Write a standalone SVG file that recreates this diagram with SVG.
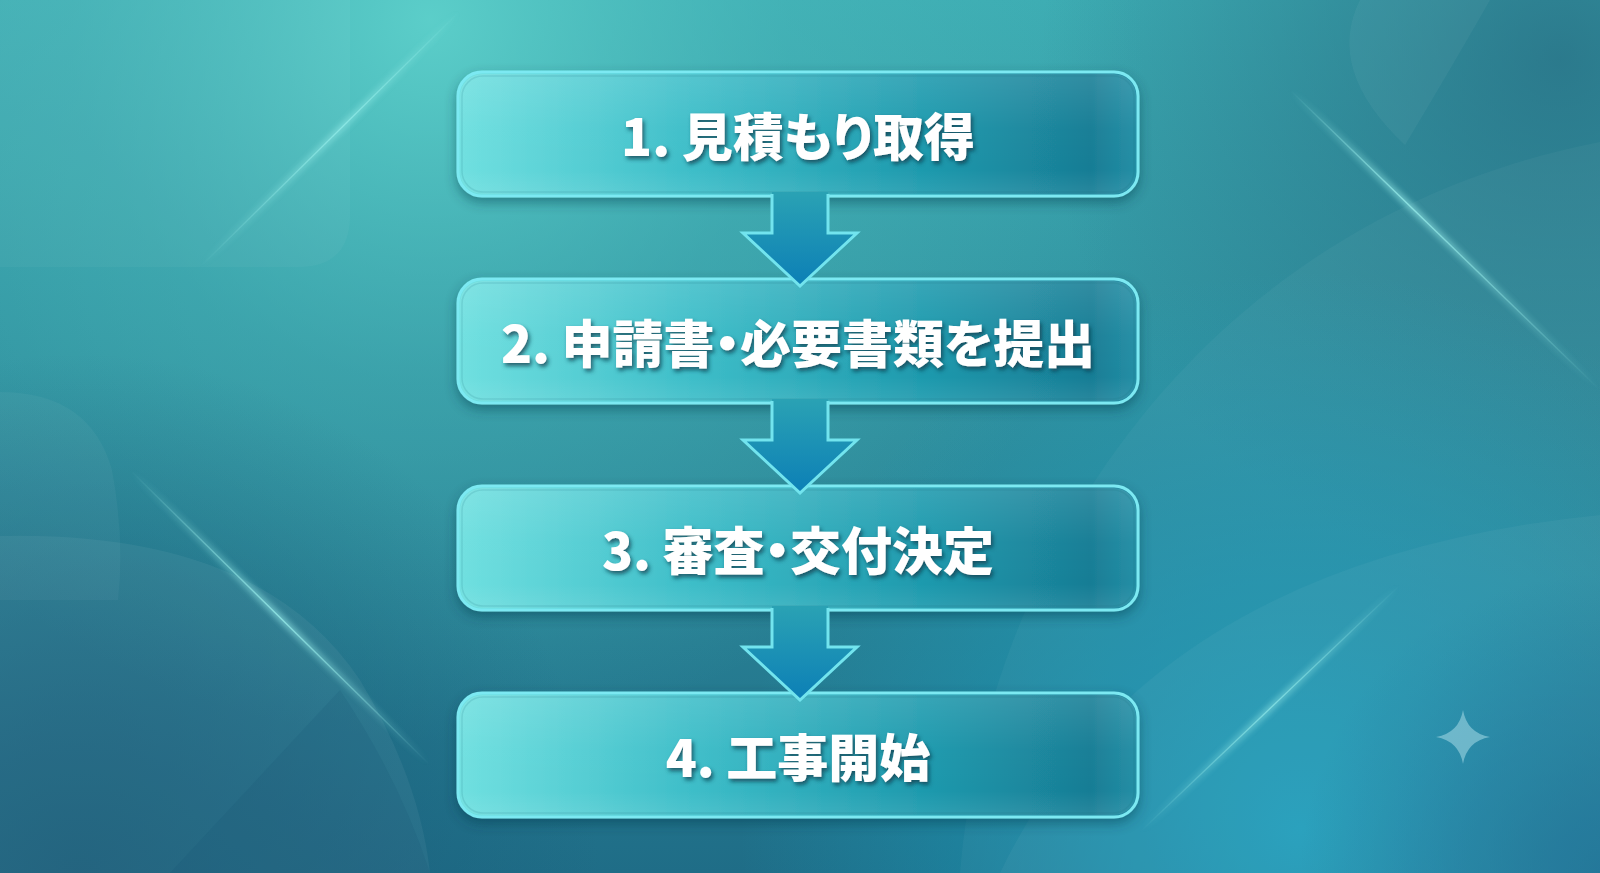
<svg xmlns="http://www.w3.org/2000/svg" width="1600" height="873" viewBox="0 0 1600 873">
<defs>
<linearGradient id="bgBase" x1="0" y1="0" x2="0" y2="1">
<stop offset="0" stop-color="#3cabb2"/>
<stop offset="0.5" stop-color="#2e8c9c"/>
<stop offset="1" stop-color="#1f6d87"/>
</linearGradient>
<radialGradient id="bgTL" cx="430" cy="20" r="720" gradientUnits="userSpaceOnUse">
<stop offset="0" stop-color="#5fd2cc" stop-opacity="0.9"/>
<stop offset="0.5" stop-color="#4cbcbc" stop-opacity="0.4"/>
<stop offset="1" stop-color="#4cbcbc" stop-opacity="0"/>
</radialGradient>
<radialGradient id="bgBR" cx="1300" cy="830" r="560" gradientUnits="userSpaceOnUse">
<stop offset="0" stop-color="#1aa3c2" stop-opacity="0.85"/>
<stop offset="1" stop-color="#1aa3c2" stop-opacity="0"/>
</radialGradient>
<radialGradient id="bgTR" cx="1560" cy="60" r="520" gradientUnits="userSpaceOnUse">
<stop offset="0" stop-color="#25677e" stop-opacity="0.7"/>
<stop offset="1" stop-color="#25677e" stop-opacity="0"/>
</radialGradient>
<radialGradient id="bgBRC" cx="1600" cy="873" r="300" gradientUnits="userSpaceOnUse">
<stop offset="0" stop-color="#126990" stop-opacity="0.8"/>
<stop offset="1" stop-color="#126990" stop-opacity="0"/>
</radialGradient>
<radialGradient id="bgBL" cx="80" cy="873" r="520" gradientUnits="userSpaceOnUse">
<stop offset="0" stop-color="#175876" stop-opacity="0.8"/>
<stop offset="1" stop-color="#175876" stop-opacity="0"/>
</radialGradient>
<linearGradient id="boxFill" x1="0" y1="0" x2="1" y2="0">
<stop offset="0" stop-color="#70e0e0"/>
<stop offset="0.35" stop-color="#3dbdc8"/>
<stop offset="0.7" stop-color="#1d98ac"/>
<stop offset="0.93" stop-color="#187d95"/>
<stop offset="1" stop-color="#248fa6"/>
</linearGradient>
<linearGradient id="boxGloss" x1="0" y1="0" x2="0" y2="1">
<stop offset="0" stop-color="#ffffff" stop-opacity="0.12"/>
<stop offset="0.45" stop-color="#ffffff" stop-opacity="0.02"/>
<stop offset="0.8" stop-color="#ffffff" stop-opacity="0"/>
<stop offset="1" stop-color="#ffffff" stop-opacity="0.08"/>
</linearGradient>
<linearGradient id="arrowFill" x1="0" y1="0" x2="0" y2="1">
<stop offset="0" stop-color="#2aa2b4"/>
<stop offset="1" stop-color="#0c7fb6"/>
</linearGradient>
<filter id="boxShadow" x="-10%" y="-30%" width="120%" height="170%">
<feDropShadow dx="0" dy="5" stdDeviation="6" flood-color="#0a3848" flood-opacity="0.45"/>
</filter>
<filter id="txtShadow" x="-10%" y="-40%" width="120%" height="180%">
<feDropShadow dx="2" dy="3" stdDeviation="2" flood-color="#0b3a4a" flood-opacity="0.75"/>
</filter>
<filter id="glow" x="-20%" y="-20%" width="140%" height="140%">
<feGaussianBlur stdDeviation="3"/>
</filter>
<linearGradient id="st1" x1="200" y1="267" x2="460" y2="11" gradientUnits="userSpaceOnUse">
<stop offset="0" stop-color="#9ff4f0" stop-opacity="0"/>
<stop offset="0.55" stop-color="#9ff4f0" stop-opacity="0.7"/>
<stop offset="1" stop-color="#9ff4f0" stop-opacity="0"/>
</linearGradient>
<linearGradient id="st2" x1="130" y1="470" x2="430" y2="765" gradientUnits="userSpaceOnUse">
<stop offset="0" stop-color="#9ff4f0" stop-opacity="0"/>
<stop offset="0.5" stop-color="#9ff4f0" stop-opacity="0.85"/>
<stop offset="1" stop-color="#9ff4f0" stop-opacity="0"/>
</linearGradient>
<linearGradient id="st3" x1="1290" y1="90" x2="1600" y2="390" gradientUnits="userSpaceOnUse">
<stop offset="0" stop-color="#9ff4f0" stop-opacity="0"/>
<stop offset="0.38" stop-color="#9ff4f0" stop-opacity="0.85"/>
<stop offset="1" stop-color="#9ff4f0" stop-opacity="0"/>
</linearGradient>
<linearGradient id="st4" x1="1140" y1="832" x2="1400" y2="585" gradientUnits="userSpaceOnUse">
<stop offset="0" stop-color="#9ff4f0" stop-opacity="0"/>
<stop offset="0.5" stop-color="#9ff4f0" stop-opacity="0.7"/>
<stop offset="1" stop-color="#9ff4f0" stop-opacity="0"/>
</linearGradient>
</defs>
<style>
.box{fill:url(#boxFill);stroke:#7ce9f2;stroke-width:3}
.gloss{fill:url(#boxGloss)}
.inner{fill:none;stroke:#1b6f82;stroke-opacity:0.15;stroke-width:1.5}
.lbl{font-family:"Noto Sans CJK JP","Noto Sans",sans-serif;font-weight:900;font-size:51px;fill:#ffffff;text-anchor:middle;font-feature-settings:"palt" 1}
.arrowFill{fill:url(#arrowFill)}
.arrowLine{fill:none;stroke:#72e4ee;stroke-width:3;stroke-linejoin:miter}
.soft{fill:#ffffff}
</style>

<!-- background -->
<rect width="1600" height="873" fill="url(#bgBase)"/>
<rect width="1600" height="873" fill="url(#bgTL)"/>
<rect width="1600" height="873" fill="url(#bgTR)"/>
<rect width="1600" height="873" fill="url(#bgBR)"/>
<rect width="1600" height="873" fill="url(#bgBRC)"/>
<rect width="1600" height="873" fill="url(#bgBL)"/>
<path class="soft" opacity="0.035" d="M0 0 H350 V215 Q350 267 298 267 H0 Z"/>
<path class="soft" opacity="0.04" d="M0 392 Q90 392 112 470 Q125 540 118 600 L0 600 Z"/>
<path class="soft" opacity="0.05" d="M0 536 Q260 530 360 680 Q420 780 430 873 H0 Z"/>
<path class="soft" opacity="0.045" d="M1360 0 Q1325 70 1405 145 Q1450 70 1490 0 Z"/>
<path class="soft" opacity="0.035" d="M960 873 C985 560 1200 220 1600 142 V873 Z"/>
<path class="soft" opacity="0.04" d="M1000 873 Q1150 560 1600 515 V873 Z"/>
<path fill="#0f4c6a" opacity="0.12" d="M170 873 L340 690 Q400 780 430 873 Z"/>

<!-- light streaks -->
<g opacity="0.9">
<line x1="200" y1="267" x2="460" y2="11" stroke="url(#st1)" stroke-width="5" filter="url(#glow)"/>
<line x1="200" y1="267" x2="460" y2="11" stroke="url(#st1)" stroke-width="1.2"/>
<line x1="130" y1="470" x2="430" y2="765" stroke="url(#st2)" stroke-width="5" filter="url(#glow)"/>
<line x1="130" y1="470" x2="430" y2="765" stroke="url(#st2)" stroke-width="1.4"/>
<line x1="1290" y1="90" x2="1600" y2="390" stroke="url(#st3)" stroke-width="5" filter="url(#glow)"/>
<line x1="1290" y1="90" x2="1600" y2="390" stroke="url(#st3)" stroke-width="1.4"/>
<line x1="1140" y1="832" x2="1400" y2="585" stroke="url(#st4)" stroke-width="5" filter="url(#glow)"/>
<line x1="1140" y1="832" x2="1400" y2="585" stroke="url(#st4)" stroke-width="1.2"/>
</g>

<!-- sparkle -->
<path fill="#86c6d6" opacity="0.75" d="M1463 710 Q1467 733 1490 737 Q1467 741 1463 764 Q1459 741 1436 737 Q1459 733 1463 710 Z"/>

<!-- nodes -->
<g id="node1">
<rect class="box" x="458" y="72" width="680" height="124" rx="24" filter="url(#boxShadow)"/>
<rect class="gloss" x="460" y="74" width="676" height="120" rx="22"/>
<rect class="inner" x="462" y="76" width="672" height="116" rx="21"/>
<text class="lbl" x="798" y="156" filter="url(#txtShadow)">1. 見積もり取得</text>
</g>
<g id="node2">
<rect class="box" x="458" y="279" width="680" height="124" rx="24" filter="url(#boxShadow)"/>
<rect class="gloss" x="460" y="281" width="676" height="120" rx="22"/>
<rect class="inner" x="462" y="283" width="672" height="116" rx="21"/>
<text class="lbl" x="798" y="363" filter="url(#txtShadow)">2. 申請書・必要書類を提出</text>
</g>
<g id="node3">
<rect class="box" x="458" y="486" width="680" height="124" rx="24" filter="url(#boxShadow)"/>
<rect class="gloss" x="460" y="488" width="676" height="120" rx="22"/>
<rect class="inner" x="462" y="490" width="672" height="116" rx="21"/>
<text class="lbl" x="798" y="570" filter="url(#txtShadow)">3. 審査・交付決定</text>
</g>
<g id="node4">
<rect class="box" x="458" y="693" width="680" height="124" rx="24" filter="url(#boxShadow)"/>
<rect class="gloss" x="460" y="695" width="676" height="120" rx="22"/>
<rect class="inner" x="462" y="697" width="672" height="116" rx="21"/>
<text class="lbl" x="798" y="777" filter="url(#txtShadow)">4. 工事開始</text>
</g>

<!-- connectors -->
<g id="connectors">
<g id="arrow1">
<path class="arrowFill" d="M772 192 H828 V233 H857 L800 286 L743 233 H772 Z"/>
<path class="arrowLine" d="M772 194 V233 H743 L800 286 L857 233 H828 V194"/>
</g>
<g id="arrow2">
<path class="arrowFill" d="M772 399 H828 V440 H857 L800 493 L743 440 H772 Z"/>
<path class="arrowLine" d="M772 401 V440 H743 L800 493 L857 440 H828 V401"/>
</g>
<g id="arrow3">
<path class="arrowFill" d="M772 606 H828 V647 H857 L800 700 L743 647 H772 Z"/>
<path class="arrowLine" d="M772 608 V647 H743 L800 700 L857 647 H828 V608"/>
</g>
</g>
</svg>
